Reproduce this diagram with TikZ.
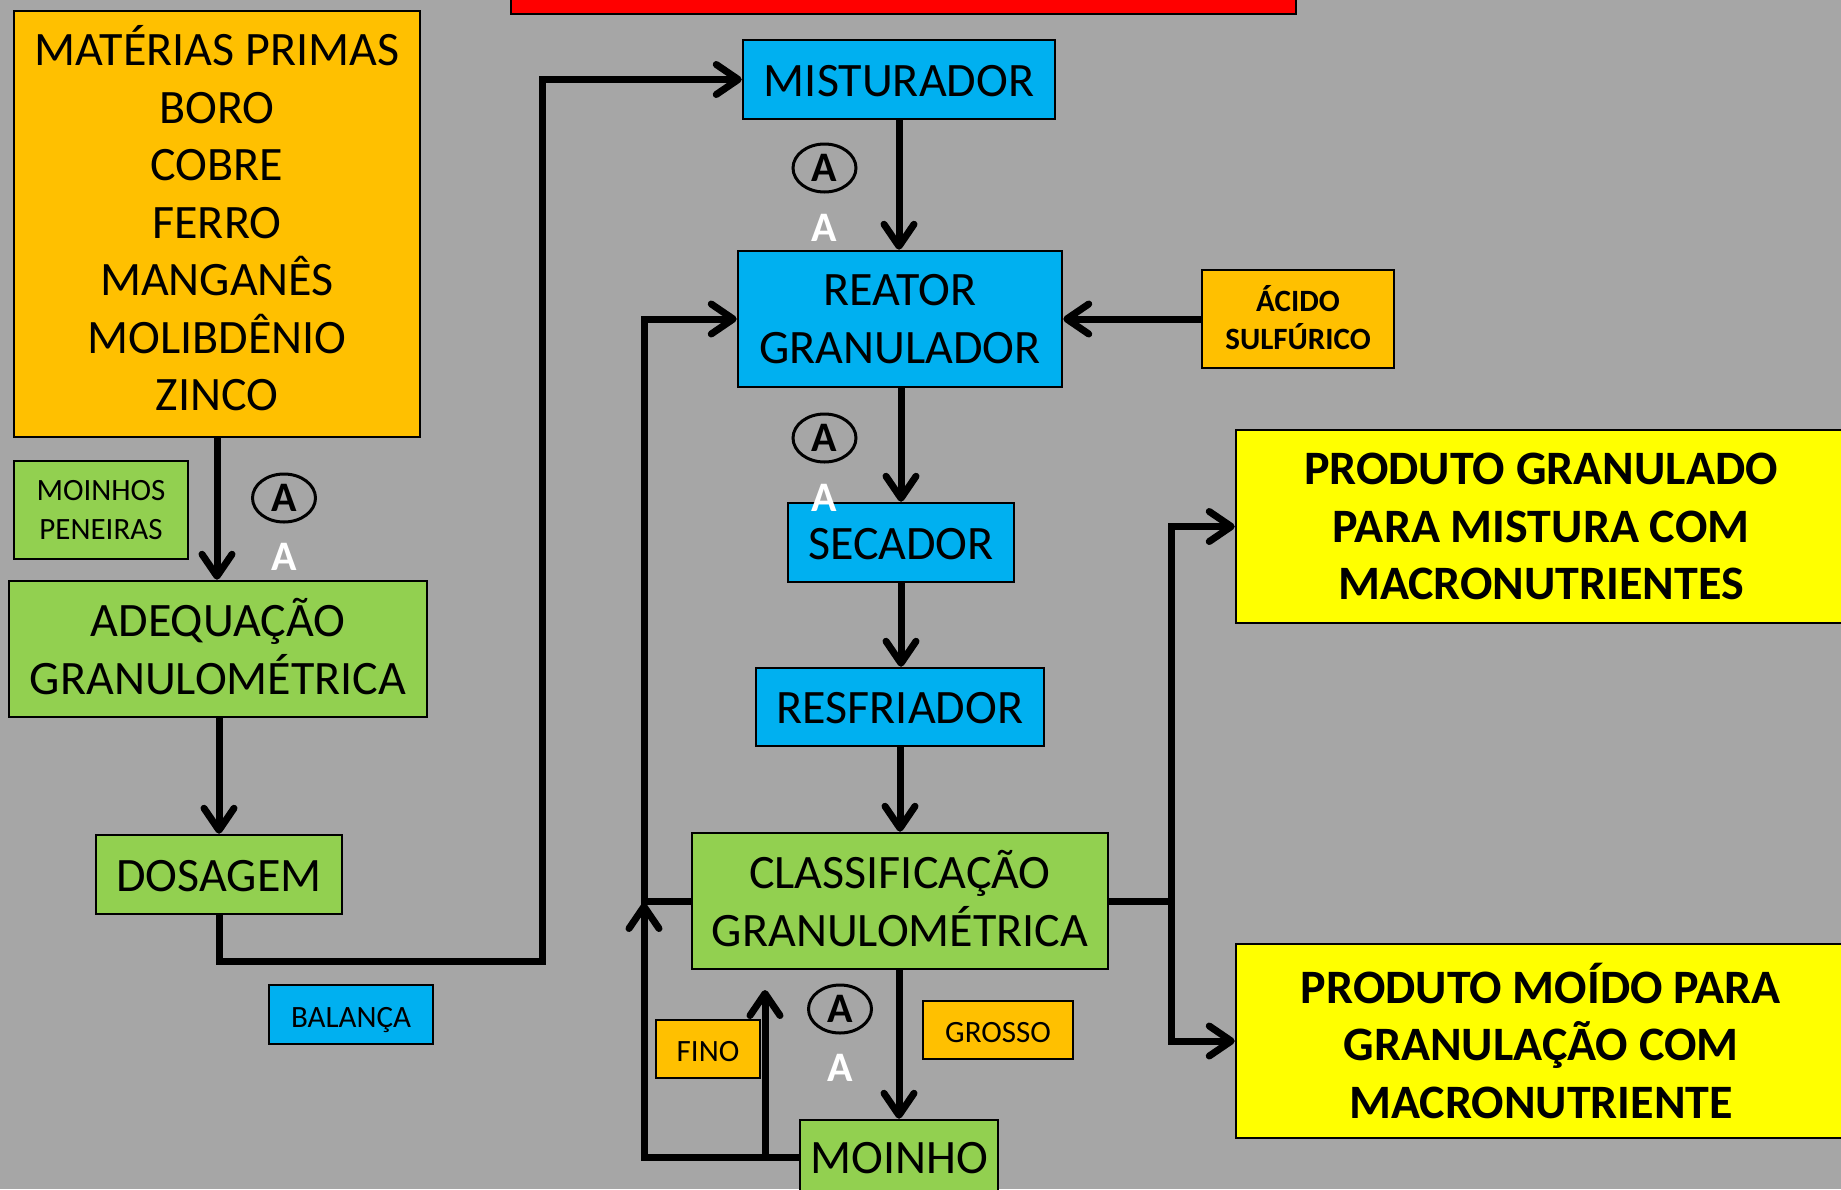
\documentclass[tikz,border=0pt]{standalone}
\usepackage{fontspec}
\setmainfont{Carlito}
\usetikzlibrary{arrows.meta,shapes.geometric}
\definecolor{bggray}{HTML}{A6A6A6}
\definecolor{procblue}{HTML}{00B0F0}
\definecolor{procgreen}{HTML}{92D050}
\definecolor{procorange}{HTML}{FFC000}
\definecolor{procyellow}{HTML}{FFFF00}
\definecolor{procred}{HTML}{FF0000}
\begin{document}
\begin{tikzpicture}[x=1pt,y=-1pt,
  box/.style={draw=black, line width=2.5pt, inner sep=0pt, align=center, text=black},
  bigtxt/.style={font=\fontsize{48}{57.5}\selectfont},
  bigbold/.style={font=\bfseries\fontsize{48}{57.8}\selectfont},
  smalltxt/.style={font=\fontsize{31}{38.5}\selectfont},
  smallbold/.style={font=\bfseries\fontsize{31}{38}\selectfont},
  % one-line labels: fixed text box so the capitals sit alike in every box
  bigline/.style={bigtxt, text height=33.5pt, text depth=0pt},
  smallline/.style={smalltxt, text height=25pt, text depth=0pt},
  conn/.style={line width=7pt, -{Straight Barb[length=22pt,width=30pt,round]}},
  plain/.style={line width=7pt},
  ringA/.style={draw=black, ellipse, line width=3pt, minimum width=63pt, minimum height=48pt,
    inner sep=0pt, font=\bfseries\fontsize{42}{42}\selectfont},
  whiteA/.style={text=white, inner sep=0pt, font=\bfseries\fontsize{42}{42}\selectfont},
]
\useasboundingbox (0,0) rectangle (1841,1189);
\clip (0,0) rectangle (1841,1189);
\fill[bggray] (0,0) rectangle (1841,1189);

% title bar (cut by the top edge)
\node[box, fill=procred, minimum width=785pt, minimum height=30pt] (title) at (903.5,-1) {};

% raw materials branch
\node[box, fill=procorange, bigtxt, text depth=12pt, minimum width=406pt, minimum height=426pt] (mat) at (217,224)
  {MATÉRIAS PRIMAS\\BORO\\COBRE\\FERRO\\MANGANÊS\\MOLIBDÊNIO\\ZINCO};
\node[box, fill=procgreen, smalltxt, text depth=-2pt, minimum width=174pt, minimum height=98pt] (moinhos) at (101,510)
  {MOINHOS\\PENEIRAS};
\node[box, fill=procgreen, bigtxt, text depth=5pt, minimum width=418pt, minimum height=136pt] (adeq) at (218,649)
  {ADEQUAÇÃO\\GRANULOMÉTRICA};
\node[box, fill=procgreen, bigline, minimum width=246pt, minimum height=79pt] (dos) at (219,874.5)
  {DOSAGEM};
\node[box, fill=procblue, smallline, minimum width=164pt, minimum height=59pt] (bal) at (351,1014.5)
  {BALANÇA};

% main process line
\node[box, fill=procblue, bigline, minimum width=312pt, minimum height=79pt] (mist) at (899,79.5)
  {MISTURADOR};
\node[box, fill=procblue, bigtxt, minimum width=324pt, minimum height=136pt] (reat) at (900,319)
  {REATOR\\GRANULADOR};
\node[box, fill=procorange, smallbold, text depth=4pt, minimum width=192pt, minimum height=98pt] (acid) at (1298,319)
  {ÁCIDO\\SULFÚRICO};
\node[box, fill=procblue, bigline, minimum width=226pt, minimum height=79pt] (sec) at (901,542.5)
  {SECADOR};
\node[box, fill=procblue, bigline, minimum width=288pt, minimum height=78pt] (resf) at (900,707)
  {RESFRIADOR};
\node[box, fill=procgreen, bigtxt, text depth=5pt, minimum width=416pt, minimum height=136pt] (clas) at (900,901)
  {CLASSIFICAÇÃO\\GRANULOMÉTRICA};
\node[box, fill=procorange, smallline, minimum width=104pt, minimum height=58pt] (fino) at (708,1049)
  {FINO};
\node[box, fill=procorange, smallline, minimum width=150pt, minimum height=58pt] (gros) at (998,1030)
  {GROSSO};
\node[box, fill=procgreen, bigline, minimum width=198pt, minimum height=74pt] (moi) at (899,1157)
  {MOINHO};

% final products
\node[box, fill=procyellow, bigbold, minimum width=610pt, minimum height=193pt] (pg) at (1541,526.5)
  {PRODUTO GRANULADO\\PARA MISTURA COM\\MACRONUTRIENTES};
\node[box, fill=procyellow, bigbold, minimum width=610pt, minimum height=194pt] (pm) at (1541,1041)
  {PRODUTO MOÍDO PARA\\GRANULAÇÃO COM\\MACRONUTRIENTE};

% routing points
\coordinate (j1) at (542,961);
\coordinate (j2) at (644,319);
\coordinate (j3) at (644,903);
\coordinate (f1) at (765,990);
\coordinate (j4) at (1171,901);

% connectors
\draw[conn] (mat.south) -- (mat.south |- adeq.north);
\draw[conn] (adeq.south -| dos.north) -- (dos.north);
\draw[conn] (dos.south) |- (j1) |- (mist.west);
\draw[conn] (mist.south) -- (mist.south |- reat.north);
\draw[conn] (acid.west) -- (reat.east);
\draw[conn] (reat.south -| sec.north) -- (sec.north);
\draw[conn] (sec.south) -- (sec.south |- resf.north);
\draw[conn] (resf.south) -- (resf.south |- clas.north);
\draw[conn] (clas.west) -| (j2) -- (reat.west);
\draw[conn] (moi.west) -| (j3);
\draw[conn] (moi.west -| f1) -- (f1);
\draw[conn] (clas.south -| moi.north) -- (moi.north);
\draw[plain] (clas.east) -- (j4);
\draw[conn] (j4) |- (pg.west);
\draw[conn] (j4) |- (pm.west);

% labels A
\node[ringA] (ra1) at (284,498) {A};
\node[whiteA] (wa1) at (284,557) {A};
\node[ringA] (ra2) at (824.5,168) {A};
\node[whiteA] (wa2) at (824.5,228) {A};
\node[ringA] (ra3) at (824.5,438) {A};
\node[whiteA] (wa3) at (824.5,497.5) {A};
\node[ringA] (ra4) at (840,1009) {A};
\node[whiteA] (wa4) at (840,1068) {A};
\end{tikzpicture}
\end{document}
